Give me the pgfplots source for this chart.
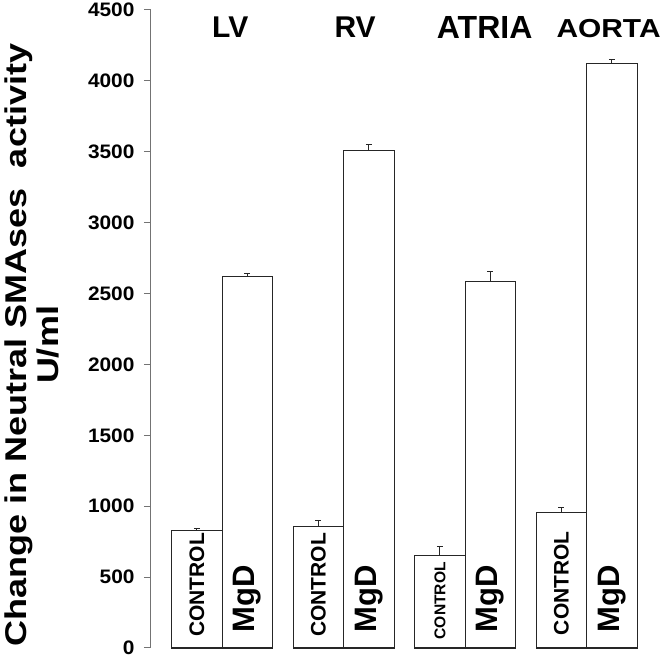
\documentclass[border=0pt]{standalone}
\usepackage{fontspec}
\setmainfont{Liberation Sans}
\newfontfamily\labfont{Liberation Sans}[FakeStretch=1.2]
\newfontfamily\tickfont{Liberation Sans}[FakeStretch=1.07]
\newfontfamily\aortafont{Liberation Sans}[FakeStretch=1.15]
\usepackage{pgfplots}
\pgfplotsset{compat=1.18}
\pgfplotstableread{
x y e
1 831 15
2 855 42
3 650 65
4 956 33
}\controldata
\pgfplotstableread{
x y e
1 2619 21
2 3509 42
3 2586 73
4 4120 30
}\mgddata
\tikzset{ctl/.style={rotate=90, anchor=west, inner sep=0pt, font=\fontsize{21}{21}\selectfont\bfseries},
  mgd/.style={rotate=90, anchor=west, inner sep=0pt, font=\fontsize{31}{31}\selectfont\bfseries}}
\begin{document}
\begin{tikzpicture}
\begin{axis}[
  name=ax,
  scale only axis, width=513pt, height=638pt,
  xmin=0.414, xmax=4.636, ymin=0, ymax=4500,
  axis x line=none, axis y line*=left,
  axis line style={-, black!55, line width=1pt},
  ytick={0,500,...,4500},
  tick align=outside, major tick length=7pt,
  ytick style={black!55, line width=1pt},
  yticklabel style={font=\tickfont\fontsize{19.5}{20}\selectfont\bfseries, xshift=-6pt},
  /pgf/number format/assume math mode=true,
  /pgf/number format/1000 sep={},
  clip=false,
  ybar, bar width=0.4156,
]
\addplot[ybar, bar shift=-0.2078, fill=white, draw=black!85, line width=1.2pt,
  error bars/.cd, y dir=plus, y explicit,
  error bar style={line width=1pt, black!85},
  error mark options={rotate=90, mark size=3pt, line width=1pt, black!85}]
  table[x=x, y=y, y error=e] {\controldata};
\addplot[ybar, bar shift=0.2078, fill=white, draw=black!85, line width=1.2pt,
  error bars/.cd, y dir=plus, y explicit,
  error bar style={line width=1pt, black!85},
  error mark options={rotate=90, mark size=3pt, line width=1pt, black!85}]
  table[x=x, y=y, y error=e] {\mgddata};
% labels in bars
\node[ctl] at (axis cs:0.7922,77) {CONTROL};
\node[ctl] at (axis cs:1.7922,77) {CONTROL};
\node[ctl, font=\fontsize{15.6}{16}\selectfont\bfseries] at (axis cs:2.7922,60) {CONTROL};
\node[ctl] at (axis cs:3.7922,90) {CONTROL};
\node[mgd] at (axis cs:1.2078,110) {MgD};
\node[mgd] at (axis cs:2.2078,110) {MgD};
\node[mgd] at (axis cs:3.2078,110) {MgD};
\node[mgd] at (axis cs:4.2078,110) {MgD};
% titles
\node[font=\fontsize{30}{30}\selectfont\bfseries] at (axis cs:1.066,4379) {LV};
\node[font=\fontsize{30}{30}\selectfont\bfseries] at (axis cs:2.094,4379) {RV};
\node[font=\fontsize{32}{32}\selectfont\bfseries] at (axis cs:3.16,4379) {ATRIA};
\node[font=\aortafont\fontsize{26}{26}\selectfont\bfseries] at (axis cs:4.18,4372) {AORTA};
% y label
\node[rotate=90, align=center, font=\labfont\fontsize{30}{32}\selectfont\bfseries]
  at ([xshift=-119pt, yshift=-16pt]rel axis cs:0,0.5) {Change in Neutral SMAses~ activity\\U/ml};
\end{axis}
\pgfresetboundingbox
\path ([xshift=-151pt, yshift=-11pt]ax.south west) rectangle ([xshift=2pt, yshift=10pt]ax.north east);
\end{tikzpicture}
\end{document}
